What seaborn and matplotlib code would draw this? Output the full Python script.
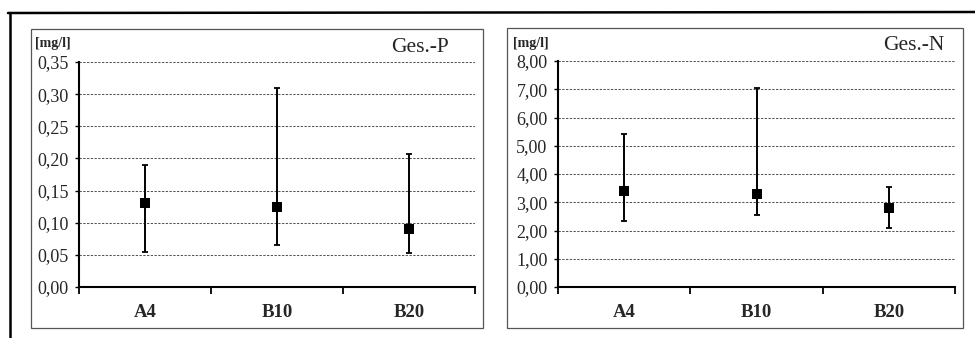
import pandas as pd
import matplotlib
matplotlib.use("Agg")
import matplotlib.pyplot as plt
import seaborn as sns
from matplotlib.patches import Rectangle
from matplotlib.lines import Line2D
from matplotlib.ticker import FuncFormatter, FixedLocator

# --- data ---
sites = ["A4", "B10", "B20"]

p_mean = [0.130, 0.125, 0.090]
p_low = [0.055, 0.065, 0.053]
p_high = [0.190, 0.310, 0.207]

n_mean = [3.40, 3.30, 2.80]
n_low = [2.32, 2.55, 2.08]
n_high = [5.42, 7.05, 3.55]

p_ticks = [0.00, 0.05, 0.10, 0.15, 0.20, 0.25, 0.30, 0.35]
n_ticks = [0.0, 1.0, 2.0, 3.0, 4.0, 5.0, 6.0, 7.0, 8.0]

sns.set_theme(style="white")
plt.rcParams["font.family"] = ["Liberation Serif", "DejaVu Serif"]

W, H = 975, 338
fig = plt.figure(figsize=(W / 100, H / 100), dpi=100)


def fx(px):
    return px / W


def fy(py):
    return 1 - py / H


def panel(box, axbox, mean, low, high, ticks, ymax, title, title_xy, unit_xy):
    # light inner frame around the chart
    x0, y0, x1, y1 = box
    fig.add_artist(Rectangle((fx(x0), fy(y1)), fx(x1 - x0), (y1 - y0) / H,
                             transform=fig.transFigure, fill=False,
                             edgecolor="#555555", lw=0.9))
    l, t, r, b = axbox
    ax = fig.add_axes([fx(l), fy(b), fx(r - l), (b - t) / H])
    df = pd.DataFrame({"site": sites, "mean": mean, "low": low, "high": high})
    df["x"] = range(len(sites))

    ax.errorbar(df["x"], df["mean"],
                yerr=[df["mean"] - df["low"], df["high"] - df["mean"]],
                fmt="none", ecolor="black", elinewidth=1.4, capsize=2.5,
                capthick=1.3, zorder=3)
    sns.scatterplot(data=df, x="x", y="mean", marker="s", color="black",
                    s=60, edgecolor="black", linewidth=0, ax=ax, zorder=4)

    ax.set_xlim(-0.5, len(sites) - 0.5)
    ax.set_ylim(0, ymax)
    ax.yaxis.set_major_locator(FixedLocator(ticks))
    ax.yaxis.set_major_formatter(FuncFormatter(lambda v, _: f"{v:.2f}".replace(".", ",")))
    ax.xaxis.set_major_locator(FixedLocator([-0.5, 0.5, 1.5, 2.5]))
    ax.xaxis.set_major_formatter(FuncFormatter(lambda v, _: ""))
    ax.xaxis.set_minor_locator(FixedLocator(df["x"].tolist()))
    ax.set_xticklabels(sites, minor=True)
    ax.tick_params(axis="x", which="major", direction="out", length=5, width=1.3,
                   color="black", bottom=True)
    ax.tick_params(axis="x", which="minor", length=0, pad=12, labelsize=13.5)
    for lbl in ax.get_xticklabels(minor=True):
        lbl.set_fontweight("bold")
    ax.tick_params(axis="y", direction="out", length=3, width=1.0, color="black",
                   left=True, labelsize=13, pad=4.5)
    ax.set_xlabel("")
    ax.set_ylabel("")

    for v in ticks[1:]:
        ax.axhline(v, color="#555555", lw=0.75, ls=(0, (2.2, 1.4)), zorder=1)

    sns.despine(ax=ax)
    for side in ("left", "bottom"):
        ax.spines[side].set_color("black")
        ax.spines[side].set_linewidth(1.5)

    fig.text(fx(unit_xy[0]), fy(unit_xy[1]), "[mg/l]", fontsize=10,
             fontweight="bold", ha="left", va="center")
    fig.text(fx(title_xy[0]), fy(title_xy[1]), title, fontsize=15.5,
             ha="right", va="center")
    return ax


panel((31, 29, 483, 328), (79, 62, 475, 287), p_mean, p_low, p_high,
      p_ticks, 0.35, "Ges.-P", (449, 48), (35, 43))
panel((507, 28, 963, 328), (558, 61, 955, 287), n_mean, n_low, n_high,
      n_ticks, 8.0, "Ges.-N", (944, 46), (513, 43))

# outer document frame
fig.add_artist(Line2D([fx(8), fx(975)], [fy(13), fy(12)], transform=fig.transFigure,
                      color="black", lw=1.8))
fig.add_artist(Line2D([fx(10), fx(10)], [fy(13), fy(338)], transform=fig.transFigure,
                      color="black", lw=1.8))

fig.savefig("out.png", dpi=100, facecolor="white")
